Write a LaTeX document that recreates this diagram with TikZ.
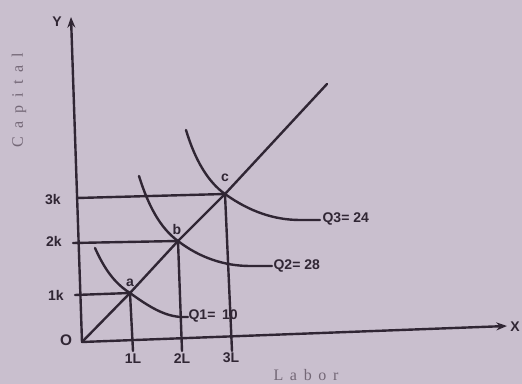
\documentclass[tikz,border=0pt]{standalone}
\usepackage{fontspec}
\setmainfont{Liberation Sans}
\newfontfamily\serifl{Liberation Serif}
\usetikzlibrary{arrows.meta}
\definecolor{bgc}{RGB}{201,191,206}
\definecolor{ink}{RGB}{48,38,52}
\definecolor{faint}{RGB}{115,103,118}
\begin{document}
\begin{tikzpicture}[x=0.75pt,y=-0.75pt,
  ln/.style={draw=ink,line width=1.8pt,line cap=round},
  ax/.style={ln,-{Stealth[length=8pt,width=6pt]}},
  lbl/.style={text=ink,font=\bfseries\fontsize{10.5}{12}\selectfont,inner sep=1pt},
  ttl/.style={text=faint,font=\serifl\fontsize{12}{13}\selectfont}]
\fill[bgc] (0,0) rectangle (522,384);
\useasboundingbox (0,0) rectangle (522,384);
% points
\coordinate (O) at (82,342);
\coordinate (Ytip) at (71,17);
\coordinate (Xtip) at (507,326);
\coordinate (a) at (130,293);
\coordinate (b) at (178,241);
\coordinate (c) at (225,194);
\coordinate (d) at (327,84);
\coordinate (k1) at (75,295);
\coordinate (k2) at (73,243);
\coordinate (k3) at (77,198);
\coordinate (l1) at (133,351);
\coordinate (l2) at (182,351);
\coordinate (l3) at (232,351);
% axes
\draw[ax] (O) -- (Ytip);
\draw[ax] (O) -- (Xtip);
\node[lbl] (Y) at (57,22) {Y};
\node[lbl] (X) at (515,327) {X};
\node[lbl,font=\bfseries\fontsize{11.5}{12}\selectfont] (Olbl) at (66,340) {O};
% diagonal
\draw[ln] (O) -- (a) -- (b) -- (c) -- (d);
% guide lines
\draw[ln] (k1) -- (a) -- (l1);
\draw[ln] (k2) -- (b) -- (l2);
\draw[ln] (k3) -- (c) -- (l3);
% tick labels
\node[lbl] (k1l) at (56,295) {1k};
\node[lbl] (k2l) at (54,241) {2k};
\node[lbl] (k3l) at (53,200) {3k};
\node[lbl] (l1l) at (133,359) {1L};
\node[lbl] (l2l) at (182,359) {2L};
\node[lbl] (l3l) at (231,358) {3L};
\node[lbl] (al) at (130,283) {a};
\node[lbl] (bl) at (177,229) {b};
\node[lbl] (cl) at (225,178) {c};
% isoquants
\draw[ln] (95,248) .. controls (104,268) and (114,283) .. (a) .. controls (148,306) and (165,317) .. (183,317) -- (188,317);
\node[lbl,anchor=west] (q1) at (187,316) {Q1=\hspace{5pt}10};
\draw[ln] (139,176) .. controls (148,205) and (160,228) .. (b) .. controls (200,258) and (225,266) .. (250,266) -- (272,266);
\node[lbl,anchor=west] (q2) at (272,266) {Q2= 28};
\draw[ln] (186,130) .. controls (195,160) and (208,182) .. (c) .. controls (250,212) and (275,220) .. (300,220) -- (320,220);
\node[lbl,anchor=west] (q3) at (321,219) {Q3= 24};
% axis titles
\node[ttl,rotate=90] (cap) at (19,100) {C\hspace{6pt}a\hspace{6pt}p\hspace{6pt}i\hspace{6pt}t\hspace{6pt}a\hspace{6pt}l};
\node[ttl] (lab) at (306,375) {L\hspace{5pt}a\hspace{5pt}b\hspace{5pt}o\hspace{5pt}r};
\end{tikzpicture}
\end{document}
